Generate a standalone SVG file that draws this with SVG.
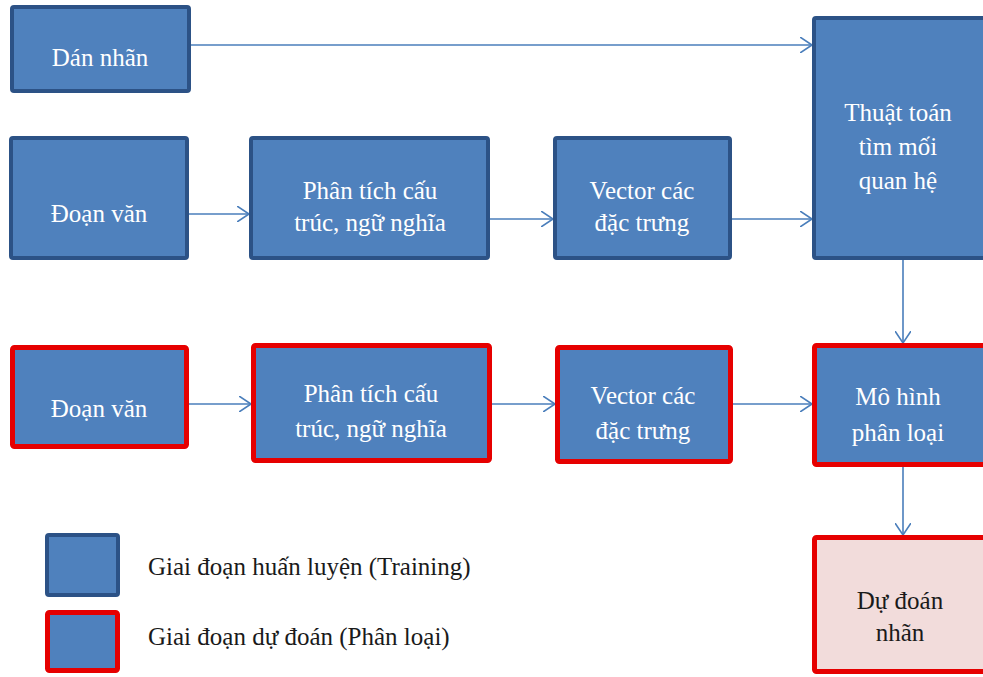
<svg xmlns="http://www.w3.org/2000/svg" width="983" height="677" viewBox="0 0 983 677" font-family="Liberation Serif, Times New Roman, DejaVu Serif, serif">
  <defs>
    <marker id="open-arrow" viewBox="0 0 12 16" refX="12" refY="8" markerWidth="12" markerHeight="16" markerUnits="userSpaceOnUse" orient="auto">
      <path d="M0,0 L12,8 L0,16" fill="none" stroke="#4a7ebb" stroke-width="1.6"/>
    </marker>
  </defs>
  <style>
    .train { fill: #4f81bd; stroke: #2c5286; stroke-width: 4; }
    .predict { fill: #4f81bd; stroke: #e60000; stroke-width: 5; }
    .result { fill: #f2dcdb; stroke: #e60000; stroke-width: 5; }
    .lbl { font-size: 25px; fill: #ffffff; text-anchor: middle; }
    .dark { fill: #1a1a1a; }
    .legend { font-size: 25px; fill: #1a1a1a; }
    .conn { stroke: #4a7ebb; stroke-width: 1.6; fill: none; marker-end: url(#open-arrow); }
  </style>
  <rect width="983" height="677" fill="#ffffff"/>

  <!-- connectors -->
  <g id="connectors">
    <line class="conn" x1="191" y1="45" x2="812" y2="45"/>
    <line class="conn" x1="189" y1="214" x2="249" y2="214"/>
    <line class="conn" x1="490" y1="219" x2="553" y2="219"/>
    <line class="conn" x1="732" y1="219" x2="812" y2="219"/>
    <line class="conn" x1="903" y1="260" x2="903" y2="343"/>
    <line class="conn" x1="189" y1="404" x2="251" y2="404"/>
    <line class="conn" x1="492" y1="404" x2="555" y2="404"/>
    <line class="conn" x1="733" y1="404" x2="812" y2="404"/>
    <line class="conn" x1="903" y1="467" x2="903" y2="535"/>
  </g>

  <!-- training row -->
  <g id="dan-nhan">
    <rect class="train" x="12" y="7" width="177" height="84" rx="2"/>
    <text class="lbl" x="100" y="66">Dán nhãn</text>
  </g>
  <g id="thuat-toan">
    <rect class="train" x="814" y="18" width="175" height="240" rx="2"/>
    <text class="lbl" x="898" y="121">Thuật toán</text>
    <text class="lbl" x="898" y="155">tìm mối</text>
    <text class="lbl" x="898" y="189">quan hệ</text>
  </g>
  <g id="doan-van-train">
    <rect class="train" x="11" y="138" width="176" height="120" rx="2"/>
    <text class="lbl" x="99" y="222">Đoạn văn</text>
  </g>
  <g id="phan-tich-train">
    <rect class="train" x="251" y="138" width="237" height="120" rx="2"/>
    <text class="lbl" x="370" y="199">Phân tích cấu</text>
    <text class="lbl" x="370" y="231">trúc, ngữ nghĩa</text>
  </g>
  <g id="vector-train">
    <rect class="train" x="555" y="138" width="175" height="120" rx="2"/>
    <text class="lbl" x="642" y="199">Vector các</text>
    <text class="lbl" x="642" y="231">đặc trưng</text>
  </g>

  <!-- prediction row -->
  <g id="doan-van-predict">
    <rect class="predict" x="12.5" y="347.5" width="174" height="99" rx="2"/>
    <text class="lbl" x="99" y="417">Đoạn văn</text>
  </g>
  <g id="phan-tich-predict">
    <rect class="predict" x="253.5" y="345.5" width="236" height="115" rx="2"/>
    <text class="lbl" x="371" y="402">Phân tích cấu</text>
    <text class="lbl" x="371" y="437">trúc, ngữ nghĩa</text>
  </g>
  <g id="vector-predict">
    <rect class="predict" x="557.5" y="347.5" width="173" height="114" rx="2"/>
    <text class="lbl" x="643" y="404">Vector các</text>
    <text class="lbl" x="643" y="439">đặc trưng</text>
  </g>
  <g id="mo-hinh">
    <rect class="predict" x="814.5" y="345.5" width="175" height="119" rx="2"/>
    <text class="lbl" x="898" y="405">Mô hình</text>
    <text class="lbl" x="898" y="441">phân loại</text>
  </g>
  <g id="du-doan">
    <rect class="result" x="814.5" y="537.5" width="175" height="134" rx="2"/>
    <text class="lbl dark" x="900" y="609">Dự đoán</text>
    <text class="lbl dark" x="900" y="641">nhãn</text>
  </g>

  <!-- legend -->
  <g id="legend-training">
    <rect class="train" x="47" y="535" width="71" height="60" rx="2"/>
    <text class="legend" x="148" y="575">Giai đoạn huấn luyện (Training)</text>
  </g>
  <g id="legend-predict">
    <rect class="predict" x="47.5" y="612.5" width="70" height="58" rx="2"/>
    <text class="legend" x="148" y="645">Giai đoạn dự đoán (Phân loại)</text>
  </g>
</svg>
